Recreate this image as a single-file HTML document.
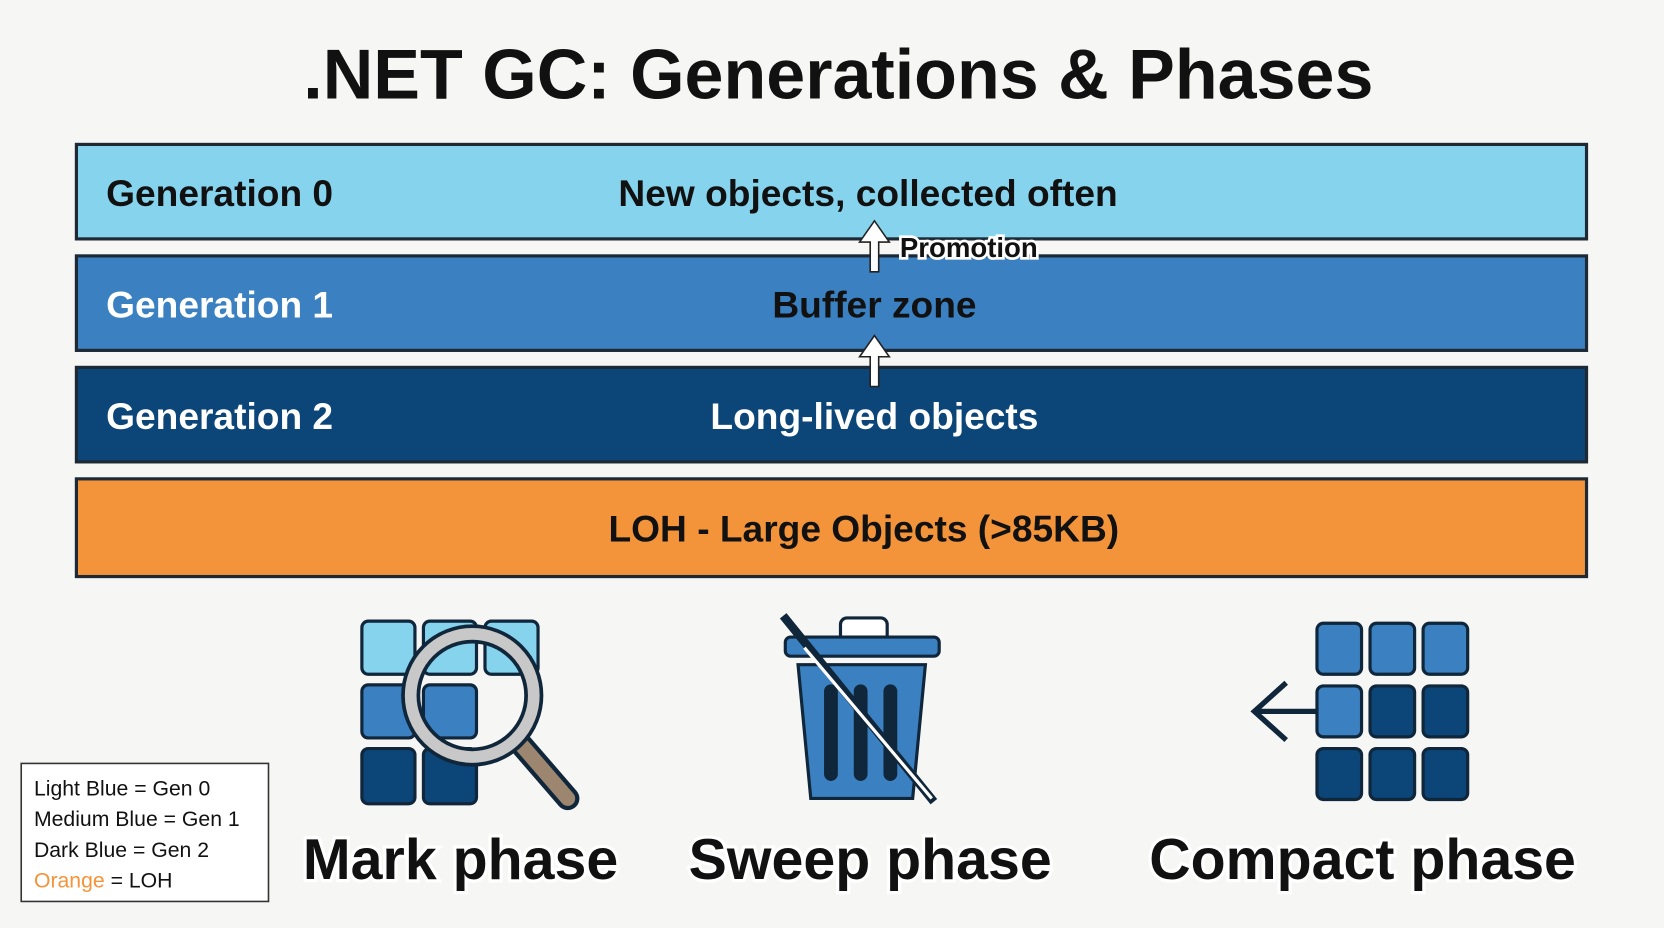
<!DOCTYPE html>
<html><head><meta charset="utf-8"><style>
html,body{margin:0;padding:0;background:#f6f6f4;}
svg{display:block}
text{font-family:"Liberation Sans",sans-serif;font-weight:bold;}
</style></head><body>
<svg width="1664" height="928" viewBox="0 0 1568 874" preserveAspectRatio="none" xmlns="http://www.w3.org/2000/svg">
<rect width="1568" height="874" fill="#f6f6f4"/>
<text x="790" y="93" font-size="66" text-anchor="middle" fill="#111">.NET GC: Generations &amp; Phases</text>
<g stroke="#1d2a36" stroke-width="3">
<rect x="72" y="136" width="1423" height="89" fill="#86d3ee"/>
<rect x="72" y="241" width="1423" height="89" fill="#3b81c1"/>
<rect x="72" y="346" width="1423" height="89" fill="#0c4679"/>
<rect x="72" y="451" width="1423" height="92" fill="#f3943a"/>
</g>
<g font-size="35">
<text x="100" y="194" fill="#111">Generation 0</text>
<text x="818" y="194" fill="#111" text-anchor="middle">New objects, collected often</text>
<text x="100" y="299" fill="#fff">Generation 1</text>
<text x="824" y="299" fill="#111" text-anchor="middle">Buffer zone</text>
<text x="100" y="404" fill="#fff">Generation 2</text>
<text x="824" y="404" fill="#fff" text-anchor="middle">Long-lived objects</text>
<text x="814" y="510" fill="#111" text-anchor="middle">LOH - Large Objects (&gt;85KB)</text>
</g>
<!-- promotion arrows -->
<g fill="#fff" stroke="#222" stroke-width="1.5">
<path d="M820 256 L820 228 L810 228 L824 208 L838 228 L828 228 L828 256 Z"/>
<path d="M820 364 L820 336 L810 336 L824 316 L838 336 L828 336 L828 364 Z"/>
</g>
<text x="848" y="242" font-size="26" fill="#111" stroke="#fff" stroke-width="5" paint-order="stroke">Promotion</text>
<!-- mark icon -->
<g stroke="#10263a" stroke-width="3">
<rect x="341" y="585" width="50" height="50" rx="6" fill="#86d3ee"/>
<rect x="399" y="585" width="50" height="50" rx="6" fill="#86d3ee"/>
<rect x="457" y="585" width="50" height="50" rx="6" fill="#86d3ee"/>
<rect x="341" y="645" width="50" height="50" rx="6" fill="#3b81c1"/>
<rect x="399" y="645" width="50" height="50" rx="6" fill="#3b81c1"/>
<rect x="341" y="705" width="50" height="52" rx="6" fill="#0c4679"/>
<rect x="399" y="705" width="50" height="52" rx="6" fill="#0c4679"/>
<path d="M490 700 L535 752" stroke="#10263a" stroke-width="22" stroke-linecap="round"/>
<path d="M490 700 L535 752" stroke="#9c8670" stroke-width="14" stroke-linecap="round"/>
<circle cx="445" cy="655" r="58" fill="none" stroke="#10263a" stroke-width="18"/>
<circle cx="445" cy="655" r="58" fill="none" stroke="#c8c8c8" stroke-width="11"/>
</g>
<!-- trash -->
<g stroke="#10263a" stroke-width="3" fill="#3b81c1">
<rect x="792" y="582" width="44" height="24" rx="6" fill="#fff"/>
<rect x="740" y="600" width="145" height="18" rx="5"/>
<path d="M752 626 L872 626 L860 752 L764 752 Z"/>
<rect x="778" y="646" width="10" height="88" rx="5" fill="#10263a"/>
<rect x="806" y="646" width="10" height="88" rx="5" fill="#10263a"/>
<rect x="834" y="646" width="10" height="88" rx="5" fill="#10263a"/>
</g>
<path d="M738 580 L880 755" stroke="#10263a" stroke-width="8"/>
<path d="M758 610 L878 752" stroke="#fff" stroke-width="3"/>
<!-- compact -->
<g stroke="#10263a" stroke-width="3">
<rect x="1241" y="587" width="42" height="48" rx="6" fill="#3b81c1"/>
<rect x="1291" y="587" width="42" height="48" rx="6" fill="#3b81c1"/>
<rect x="1341" y="587" width="42" height="48" rx="6" fill="#3b81c1"/>
<rect x="1241" y="646" width="42" height="48" rx="6" fill="#3b81c1"/>
<rect x="1291" y="646" width="42" height="48" rx="6" fill="#0c4679"/>
<rect x="1341" y="646" width="42" height="48" rx="6" fill="#0c4679"/>
<rect x="1241" y="705" width="42" height="48" rx="6" fill="#0c4679"/>
<rect x="1291" y="705" width="42" height="48" rx="6" fill="#0c4679"/>
<rect x="1341" y="705" width="42" height="48" rx="6" fill="#0c4679"/>
</g>
<path d="M1240 670 L1182 670 M1212 643 L1182 670 L1212 697" stroke="#10263a" stroke-width="5" fill="none"/>
<g font-size="54" fill="#111" stroke="#fff" stroke-width="6" paint-order="stroke" text-anchor="middle">
<text x="434" y="828">Mark phase</text>
<text x="820" y="828">Sweep phase</text>
<text x="1284" y="828">Compact phase</text>
</g>
<rect x="20" y="719" width="233" height="130" fill="#fff" stroke="#333" stroke-width="1.5"/>
<g font-size="20" font-weight="normal" style="font-weight:normal" fill="#111">
<text x="32" y="749" style="font-weight:normal">Light Blue = Gen 0</text>
<text x="32" y="778" style="font-weight:normal">Medium Blue = Gen 1</text>
<text x="32" y="807" style="font-weight:normal">Dark Blue = Gen 2</text>
<text x="32" y="836" style="font-weight:normal"><tspan fill="#f3943a">Orange</tspan> = LOH</text>
</g>
</svg>
</body></html>
